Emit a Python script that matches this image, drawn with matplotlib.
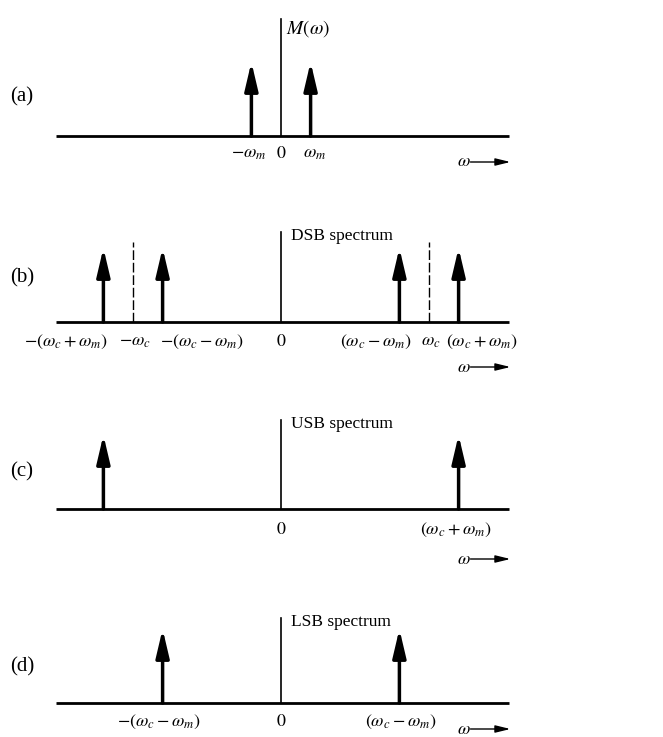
import matplotlib
matplotlib.use('Agg')
import matplotlib.pyplot as plt

plt.rcParams['font.family'] = ['Liberation Serif', 'DejaVu Serif']
plt.rcParams['mathtext.fontset'] = 'stix'

# frequencies in units of omega_m
wm = 1.0
wc = 5.0

panel_names = ['(a)', '(b)', '(c)', '(d)']
panel_titles = [r'$M(\omega)$', 'DSB spectrum', 'USB spectrum', 'LSB spectrum']

lines_a = [-wm, wm]
lines_b = [-(wc + wm), -(wc - wm), wc - wm, wc + wm]
carrier_b = [-wc, wc]
lines_c = [-(wc + wm), wc + wm]
lines_d = [-(wc - wm), wc - wm]
spectral_lines = [lines_a, lines_b, lines_c, lines_d]
line_height = 1.0

ticks_a = [-wm, 0, wm]
labels_a = [r'$-\omega_m$', '$0$', r'$\omega_m$']
ticks_b = [-(wc + wm), -wc, -(wc - wm), 0, wc - wm, wc, wc + wm]
labels_b = [r'$-(\omega_c + \omega_m)$', r'$-\omega_c$', r'$-(\omega_c - \omega_m)$', '$0$',
            r'$(\omega_c - \omega_m)$', r'$\omega_c$', r'$(\omega_c + \omega_m)$']
ticks_c = [0, wc + wm]
labels_c = ['$0$', r'$(\omega_c + \omega_m)$']
ticks_d = [-(wc - wm), 0, wc - wm]
labels_d = [r'$-(\omega_c - \omega_m)$', '$0$', r'$(\omega_c - \omega_m)$']
all_ticks = [ticks_a, ticks_b, ticks_c, ticks_d]
all_labels = [labels_a, labels_b, labels_c, labels_d]

# layout (pixels)
W, H = 663, 737
baselines = [136, 322, 509, 703]
axis_tops = [1.58, 1.21, 1.2, 1.15]
label_dx = [[-3, 0, 4], [-37, 2, 39, 0, -24, 2, 23], [0, -3], [-4, 0, 1]]
label_dy = [17, 20, 21, 19]
omega_dy = [26, 45, 50, 26]
name_dy = [39, 44, 37, 36]
px_x = 29.6   # pixels per omega_m
px_y = 74.0   # pixels per unit height
zero_px = 281
below, above = 55, 125

fig = plt.figure(figsize=(W / 100, H / 100), dpi=100)

for i in range(4):
    yb = baselines[i]
    ax = fig.add_axes([0, (H - (yb + below)) / H, 1, (below + above) / H])
    ax.set_xlim(-zero_px / px_x, (W - zero_px) / px_x)
    ax.set_ylim(-below / px_y, above / px_y)
    ax.axis('off')

    ax.plot([-7.6, 7.7], [0, 0], color='black', lw=2.0, solid_capstyle='butt')
    ax.plot([0, 0], [0, axis_tops[i]], color='black', lw=1.2)

    for x in spectral_lines[i]:
        ax.annotate('', xy=(x, line_height), xytext=(x, 0),
                    arrowprops=dict(arrowstyle='-|>,head_length=1.7,head_width=0.4',
                                    mutation_scale=10, lw=2.5, color='black',
                                    shrinkA=0, shrinkB=0))
    if i == 1:
        for x in carrier_b:
            ax.plot([x, x], [0, 1.08], color='black', lw=1.0, ls=(0, (7, 2)))

    for x, lab, dx in zip(all_ticks[i], all_labels[i], label_dx[i]):
        ax.annotate(lab, xy=(x, 0), xytext=(dx, -label_dy[i]), textcoords='offset pixels',
                    ha='center', va='center', fontsize=13)

    if i == 0:
        ax.annotate(panel_titles[i], xy=(0, axis_tops[i]), xytext=(5, 1),
                    textcoords='offset pixels', ha='left', va='top', fontsize=14)
    else:
        ax.annotate(panel_titles[i], xy=(0, axis_tops[i]), xytext=(10, 4),
                    textcoords='offset pixels', ha='left', va='top', fontsize=12.5)

    ax.text(10 / W, (below + name_dy[i]) / (below + above), panel_names[i],
            transform=ax.transAxes, ha='left', va='center', fontsize=15)

    # omega axis arrow below the baseline
    yo = -omega_dy[i] / px_y
    ax.text(6.4, yo, r'$\omega$', ha='right', va='center', fontsize=13)
    ax.annotate('', xy=(7.75, yo), xytext=(6.4, yo),
                arrowprops=dict(arrowstyle='-|>,head_length=0.9,head_width=0.22',
                                mutation_scale=10, lw=1.0, color='black',
                                shrinkA=0, shrinkB=0))

fig.savefig('out.png', dpi=100)
